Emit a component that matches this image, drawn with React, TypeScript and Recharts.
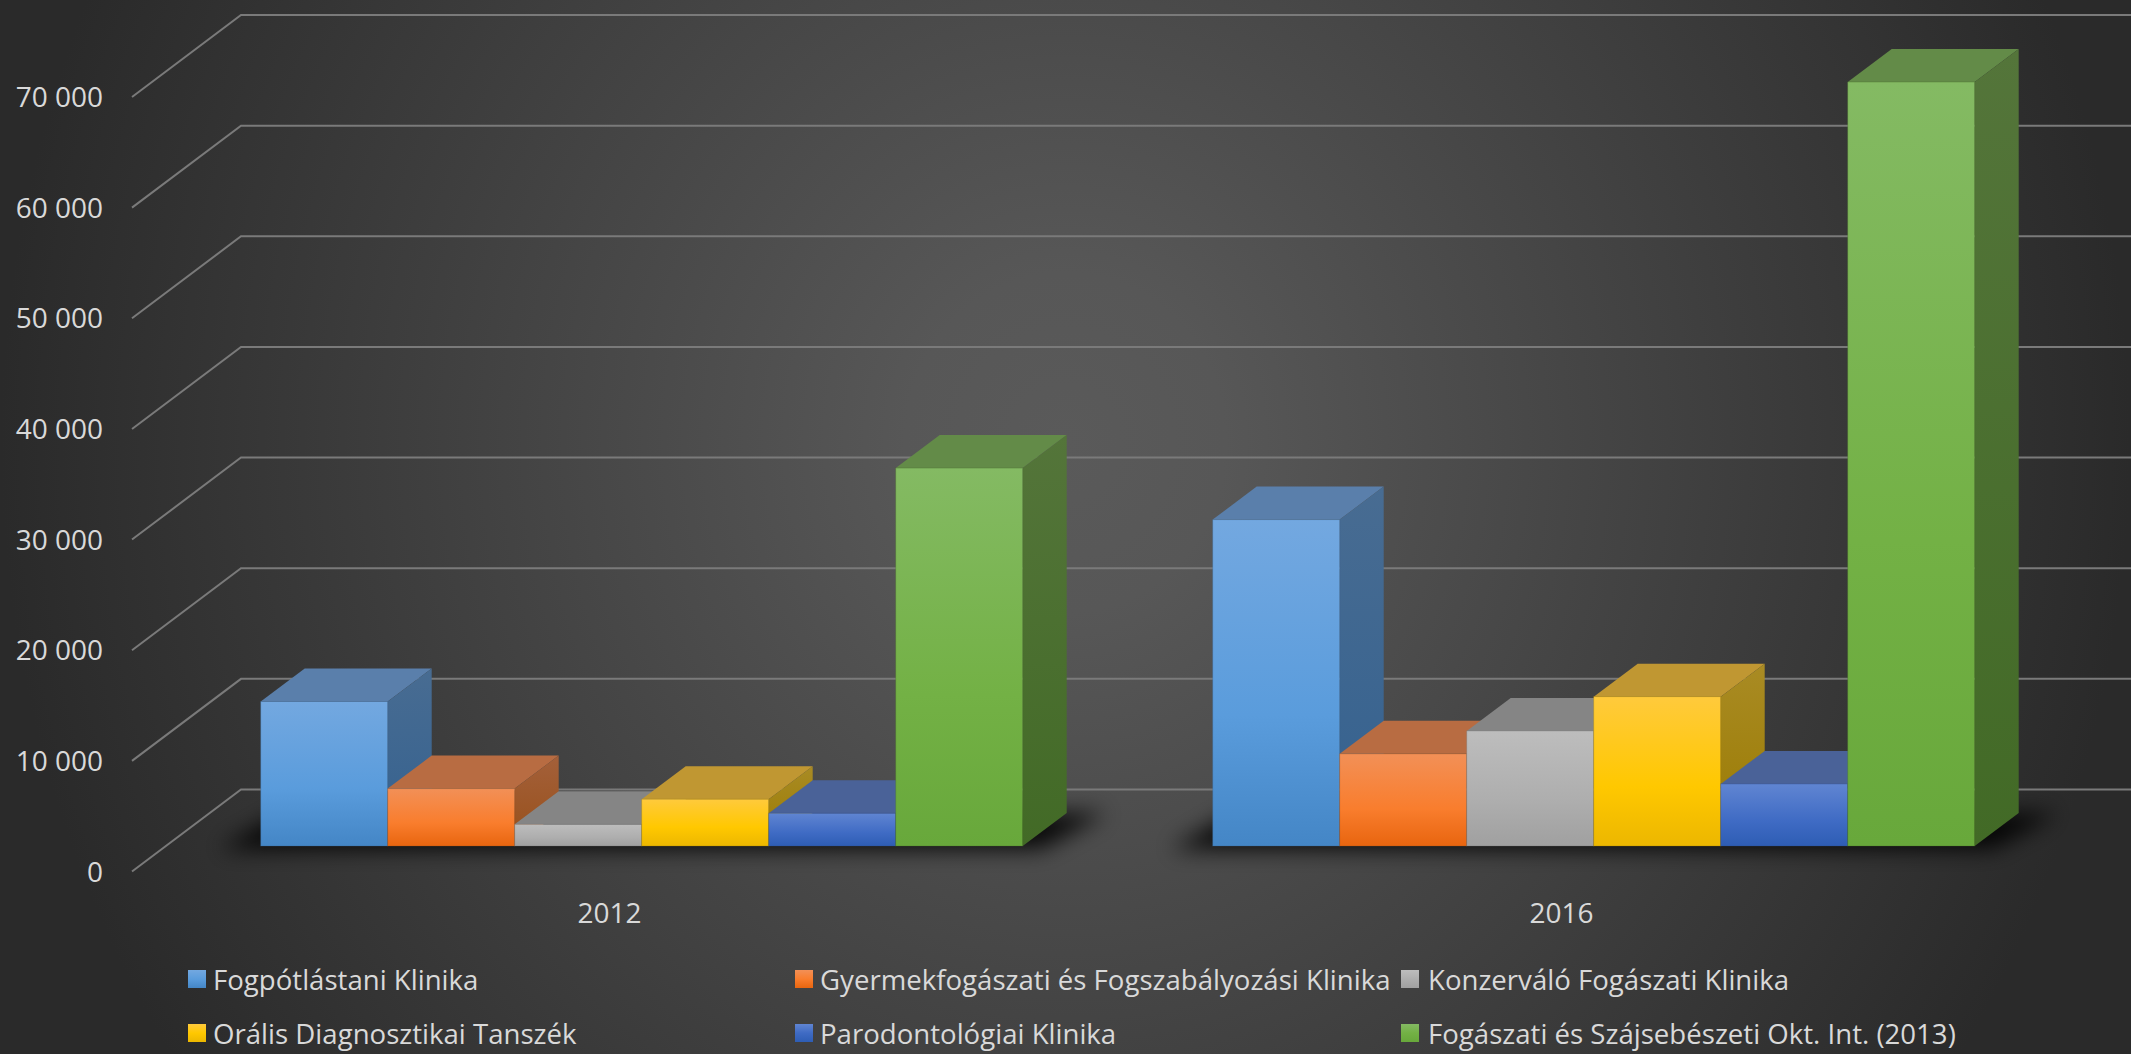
import { BarChart, Bar, XAxis, YAxis, Legend, CartesianGrid } from "recharts"

const years = ["2012", "2016"]
const seriesNames = [
  "Fogpótlástani Klinika",
  "Gyermekfogászati és Fogszabályozási Klinika",
  "Konzerváló Fogászati Klinika",
  "Orális Diagnosztikai Tanszék",
  "Parodontológiai Klinika",
  "Fogászati és Szájsebészeti Okt. Int. (2013)",
]
const protetika = [13060, 29500]
const gyermek = [5190, 8330]
const konzervalo = [1960, 10400]
const oralis = [4230, 13500]
const parodontologia = [2960, 5610]
const szajsebeszet = [34160, 69050]
const yTicks = [0, 10000, 20000, 30000, 40000, 50000, 60000, 70000]

const seriesValues = [protetika, gyermek, konzervalo, oralis, parodontologia, szajsebeszet]
const chartData = years.map((year, i) => {
  const row: Record<string, string | number> = { year }
  seriesNames.forEach((name, s) => {
    row[name] = seriesValues[s][i]
  })
  return row
})

// front: top/mid/bottom of the gradient, top: lid colour, side: top/bottom of the side face
const palettes = [
  { front: ["#73a8e0", "#5a9cdc", "#4486c6"], top: "#5a7fab", side: ["#486c92", "#34618f"] },
  { front: ["#f29057", "#f97d2d", "#e8650f"], top: "#b86c42", side: ["#a4603a", "#97501a"] },
  { front: ["#bdbdbd", "#aeaeae", "#a0a0a0"], top: "#858585", side: ["#7e7e7e", "#6c6c6c"] },
  { front: ["#ffca3c", "#ffc800", "#ecb700"], top: "#c09732", side: ["#a98b24", "#9a7a00"] },
  { front: ["#6085d2", "#3f6bc4", "#2e5db4"], top: "#4a6298", side: ["#42598c", "#2c4a85"] },
  { front: ["#84ba63", "#73b145", "#68a83b"], top: "#638b48", side: ["#54753a", "#426a26"] },
]

const LABEL_COLOR = "#d9d9d9"
const GRID_COLOR = "#7a7a7a"
const FONT = "'Open Sans', sans-serif"

// fake 3D offsets
const BAR_DX = 44
const BAR_DY = 33
const WALL_FRONT_X = 132
const WALL_BACK_X = 241
const WALL_FRONT_DY = 25.5
const WALL_BACK_DY = -56.5

// the grid layer sits under the bars, so the wall lines are drawn here and only the labels in YAxis
function WallLine({ y1, index }: any) {
  return (
    <polyline
      key={index}
      points={`${WALL_FRONT_X},${y1 + WALL_FRONT_DY} ${WALL_BACK_X},${y1 + WALL_BACK_DY} 2131,${y1 + WALL_BACK_DY}`}
      fill="none"
      stroke={GRID_COLOR}
      strokeWidth={2}
    />
  )
}

function YTick({ y, payload }: any) {
  const label = String(payload.value).replace(/\B(?=(\d{3})+$)/g, " ")
  return (
    <text x={103} y={y + WALL_FRONT_DY} dy="0.36em" textAnchor="end" fill={LABEL_COLOR} fontSize={28} fontFamily={FONT}>
      {label}
    </text>
  )
}

function Box3D({ x, y, width, height, seriesIndex }: any) {
  const p = palettes[seriesIndex]
  const right = x + width
  const bottom = y + height
  const groupRight = x + width * 6
  return (
    <g>
      {seriesIndex === 0 && (
        <polygon
          points={`${x - 42},${bottom + 3} ${groupRight + 18},${bottom + 3} ${groupRight + 84},${bottom - 33} ${x + 22},${bottom - 33}`}
          fill="#000"
          fillOpacity={0.9}
          filter="url(#floorShadow)"
        />
      )}
      <polygon
        points={`${x},${y} ${right},${y} ${right + BAR_DX},${y - BAR_DY} ${x + BAR_DX},${y - BAR_DY}`}
        fill={p.top}
      />
      <polygon
        points={`${right},${y} ${right + BAR_DX},${y - BAR_DY} ${right + BAR_DX},${bottom - BAR_DY} ${right},${bottom}`}
        fill={`url(#side${seriesIndex})`}
      />
      <rect
        x={x}
        y={y}
        width={width}
        height={height}
        fill={`url(#front${seriesIndex})`}
        stroke={p.side[1]}
        strokeOpacity={0.3}
      />
    </g>
  )
}

function LegendBlock() {
  return (
    <div
      style={{
        display: "grid",
        gridTemplateColumns: "607px 606px 600px",
        gridAutoRows: "54px",
        fontFamily: FONT,
        fontSize: 27.6,
        color: LABEL_COLOR,
      }}
    >
      {seriesNames.map((name, i) => (
        <div key={name} style={{ display: "flex", alignItems: "center", whiteSpace: "nowrap" }}>
          <span
            style={{
              display: "inline-block",
              width: 18,
              height: 18,
              marginRight: i % 3 === 2 ? 9 : 7,
              background: `linear-gradient(${palettes[i].front.join(",")})`,
            }}
          />
          {name}
        </div>
      ))}
    </div>
  )
}

export default function App() {
  return (
    <div
      style={{
        position: "absolute",
        left: 0,
        top: 0,
        width: 2131,
        height: 1054,
        background: "radial-gradient(ellipse 1065px 1130px at 50% 42%, #5a5a5a 0%, #575757 15%, #2a2a2a 100%)",
      }}
    >
      <BarChart
        width={2131}
        height={1054}
        data={chartData}
        margin={{ top: 71.5, right: 61.5, bottom: 20, left: 164.5 }}
        barCategoryGap="10%"
        barGap={0}
      >
        <defs>
          <filter id="floorShadow" x="-20%" y="-100%" width="140%" height="300%">
            <feGaussianBlur stdDeviation="11" />
          </filter>
          {palettes.map((p, i) => (
            <linearGradient key={`front${i}`} id={`front${i}`} x1="0" y1="0" x2="0" y2="1">
              <stop offset="0%" stopColor={p.front[0]} />
              <stop offset="60%" stopColor={p.front[1]} />
              <stop offset="100%" stopColor={p.front[2]} />
            </linearGradient>
          ))}
          {palettes.map((p, i) => (
            <linearGradient key={`side${i}`} id={`side${i}`} x1="0" y1="0" x2="0" y2="1">
              <stop offset="0%" stopColor={p.side[0]} />
              <stop offset="100%" stopColor={p.side[1]} />
            </linearGradient>
          ))}
        </defs>
        <CartesianGrid vertical={false} horizontal={(props: any) => <WallLine {...props} />} syncWithTicks />
        <XAxis
          dataKey="year"
          axisLine={false}
          tickLine={false}
          tick={{ fill: LABEL_COLOR, fontSize: 28, fontFamily: FONT, dx: -32, dy: 49 }}
          height={80}
        />
        <YAxis
          domain={[0, 70000]}
          ticks={yTicks}
          width={1}
          axisLine={false}
          tickLine={false}
          tick={(props: any) => <YTick {...props} />}
          interval={0}
        />
        <Legend
          content={<LegendBlock />}
          wrapperStyle={{ left: 188, top: 952, width: 1900, bottom: "auto" }}
        />
        {seriesNames.map((name, i) => (
          <Bar
            key={name}
            dataKey={name}
            isAnimationActive={false}
            shape={(props: any) => <Box3D {...props} seriesIndex={i} />}
          />
        ))}
      </BarChart>
    </div>
  )
}
